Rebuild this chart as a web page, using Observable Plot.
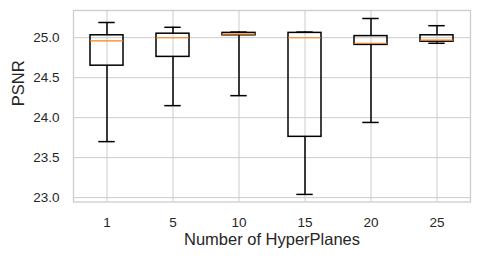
<!DOCTYPE html>
<html>
<head>
<meta charset="utf-8">
<script src="https://cdn.jsdelivr.net/npm/d3@7"></script>
<script src="https://cdn.jsdelivr.net/npm/@observablehq/plot@0.6"></script>
<style>
  html, body { margin: 0; padding: 0; background: #fff; }
</style>
</head>
<body>
<div id="chart"></div>
<script>
const categories = ["1", "5", "10", "15", "20", "25"];
const whiskerLow  = [23.70, 24.15, 24.275, 23.04, 23.94, 24.93];
const q1          = [24.65, 24.76, 25.03, 23.76, 24.91, 24.95];
const median      = [24.96, 25.00, 25.045, 25.00, 24.93, 24.97];
const q3          = [25.03, 25.05, 25.06, 25.06, 25.02, 25.03];
const whiskerHigh = [25.19, 25.13, 25.07, 25.07, 25.24, 25.15];
const yTicks = [23.0, 23.5, 24.0, 24.5, 25.0];
const xLabel = "Number of HyperPlanes";
const yLabel = "PSNR";

const rows = categories.map((c, i) => ({
  cat: c, lo: whiskerLow[i], q1: q1[i], med: median[i], q3: q3[i], hi: whiskerHigh[i]
}));

const textColor = "#262626";
const gridColor = "#cccccc";

const chart = Plot.plot({
  width: 478,
  height: 260,
  marginLeft: 73,
  marginRight: 8,
  marginTop: 10,
  marginBottom: 58.5,
  style: { fontFamily: "'Liberation Sans', Arial, sans-serif", color: textColor, background: "#fff" },
  x: { type: "band", domain: categories, paddingInner: 0.5, paddingOuter: 0.25, align: 0.5 },
  y: { domain: [22.945, 25.34] },
  marks: [
    Plot.gridX({ stroke: gridColor, strokeOpacity: 1, strokeWidth: 1 }),
    Plot.gridY(yTicks, { stroke: gridColor, strokeOpacity: 1, strokeWidth: 1 }),
    Plot.frame({ stroke: gridColor, strokeWidth: 1.3 }),
    Plot.axisX({ tickSize: 0, tickPadding: 15, fontSize: 13.5, label: null }),
    Plot.axisY({ ticks: yTicks, tickFormat: ".1f", tickSize: 0, tickPadding: 14, fontSize: 13.5, label: null }),
    Plot.ruleX(rows, { x: "cat", y1: "lo", y2: "q1", stroke: "black", strokeWidth: 1.5 }),
    Plot.ruleX(rows, { x: "cat", y1: "q3", y2: "hi", stroke: "black", strokeWidth: 1.5 }),
    Plot.tickY(rows, { x: "cat", y: "lo", stroke: "black", strokeWidth: 1.5, insetLeft: 8.3, insetRight: 8.3 }),
    Plot.tickY(rows, { x: "cat", y: "hi", stroke: "black", strokeWidth: 1.5, insetLeft: 8.3, insetRight: 8.3 }),
    Plot.barY(rows, { x: "cat", y1: "q1", y2: "q3", fill: "none", stroke: "black", strokeWidth: 1.5 }),
    Plot.tickY(rows, { x: "cat", y: "med", stroke: "#ff7f0e", strokeWidth: 1.1 }),
    Plot.text([xLabel], { text: d => d, frameAnchor: "bottom", dy: 42.5, fontSize: 16.5, fill: textColor }),
    Plot.text([yLabel], { text: d => d, frameAnchor: "left", dx: -55, rotate: -90, fontSize: 16.5, fill: textColor })
  ]
});
document.getElementById("chart").appendChild(chart);
</script>
</body>
</html>
